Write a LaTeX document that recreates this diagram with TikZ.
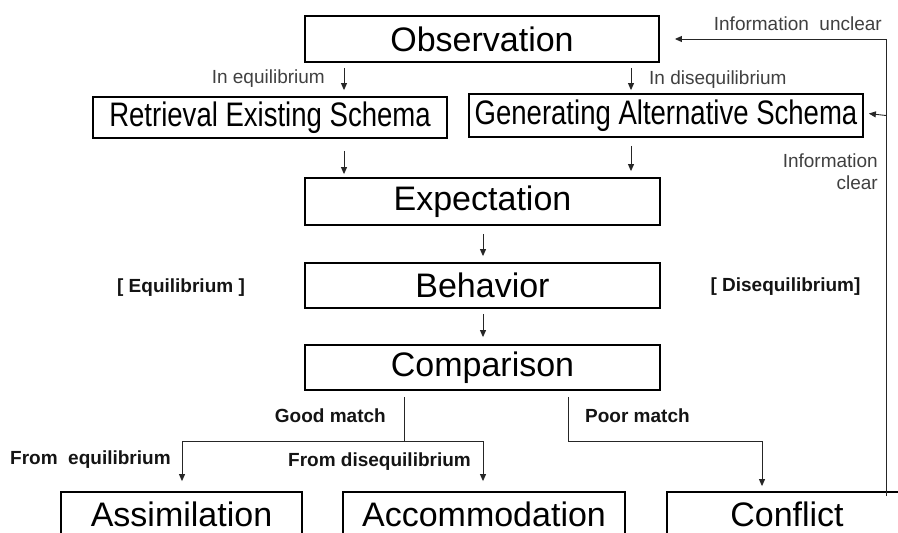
\documentclass[tikz,border=0pt]{standalone}
\usepackage{fontspec}
\setmainfont{Liberation Sans}
\usetikzlibrary{arrows.meta,calc}
\begin{document}
\begin{tikzpicture}[x=1pt,y=-1pt,
  box/.style={draw=black,line width=1.8pt,rectangle,inner sep=0pt,font=\fontsize{34}{37}\selectfont},
  arr/.style={draw=black!85,line width=0.9pt,-{Triangle[width=6pt,length=7pt]}},
  ln/.style={draw=black!85,line width=0.9pt},
  lab/.style={inner sep=0pt,text=black!75,font=\fontsize{19}{22}\selectfont},
  blab/.style={inner sep=0pt,text=black!92,font=\bfseries\fontsize{19}{22}\selectfont}]
\useasboundingbox (0,0) rectangle (898,533);
\clip (0,0) rectangle (898,533);
% boxes
\node[box,minimum width=354pt,minimum height=46pt] (obs) at (482,39) {Observation};
\node[box,minimum width=354pt,minimum height=41pt] (ret) at (270,117.5) {\scalebox{0.81}[1]{Retrieval Existing Schema}};
\node[box,minimum width=394pt,minimum height=43pt] (gen) at (666,115.5) {\scalebox{0.81}[1]{Generating Alternative Schema}};
\node[box,minimum width=355pt,minimum height=47pt] (exp) at (482.5,201.5) {Expectation};
\node[box,minimum width=355pt,minimum height=45pt] (beh) at (482.5,285.5) {Behavior};
\node[box,minimum width=355pt,minimum height=45pt] (cmp) at (482.5,367.5) {Comparison};
\node[box,minimum width=241pt,minimum height=44pt] (asm) at (181.5,514) {Assimilation};
\node[box,minimum width=282pt,minimum height=44pt] (acc) at (484,514) {Accommodation};
\node[box,minimum width=240pt,minimum height=44pt] (con) at (787,514) {Conflict};
% helper coordinates
\coordinate (xa) at (344,0);
\coordinate (xb) at (631,0);
\coordinate (xc) at (483,0);
\coordinate (gm) at (404,0);
\coordinate (pm) at (568,0);
\coordinate (xl) at (182,0);
\coordinate (xr) at (762,0);
\coordinate (xf) at (886,0);
\coordinate (hy) at (0,441);
% arrows
\draw[arr,shorten <=5pt,shorten >=6pt] (obs.south -| xa) -- (ret.north -| xa);
\draw[arr,shorten <=5pt,shorten >=3pt] (obs.south -| xb) -- (gen.north -| xb);
\draw[arr,shorten <=12pt,shorten >=3pt] (ret.south -| xa) -- (exp.north -| xa);
\draw[arr,shorten <=8pt,shorten >=6pt] (gen.south -| xb) -- (exp.north -| xb);
\draw[arr,shorten <=8pt,shorten >=6pt] (exp.south -| xc) -- (beh.north -| xc);
\draw[arr,shorten <=5pt,shorten >=7pt] (beh.south -| xc) -- (cmp.north -| xc);
% good match
\coordinate (gj) at (hy -| gm);
\draw[ln,shorten <=6pt] (cmp.south -| gm) -- (gj);
\draw[arr,shorten >=10pt] (gj) -| (asm.north -| xl);
\draw[arr,shorten >=10pt] (gj) -| (acc.north -| xc);
% poor match
\coordinate (pj) at (hy -| pm);
\draw[arr,shorten >=5pt] ([yshift=-6pt]cmp.south -| pm) -- (pj) -| (con.north -| xr);
% feedback
\coordinate (ft) at (obs.east -| xf);
\draw[arr,shorten >=15pt] ([yshift=-5pt]con.north -| xf) -- (ft) -- (obs.east);
\draw[arr,shorten >=5pt] (gen.east -| xf) -- ([yshift=2.5pt]gen.east);
% labels
\node[lab,anchor=east] (l1) at (325,79) {In equilibrium};
\node[lab,anchor=west] (l2) at (649,80) {In disequilibrium};
\node[lab,anchor=east] (l3) at (882,24) {Information\ \ unclear};
\node[lab,anchor=east,align=right] (l4) at (878,171.5) {Information\\[0pt]clear};
\node[blab] (l5) at (181,288) {[ Equilibrium ]};
\node[blab] (l6) at (785.5,287) {[ Disequilibrium]};
\node[blab,anchor=east] (l7) at (386,416) {Good match};
\node[blab,anchor=west] (l8) at (585,416) {Poor match};
\node[blab,anchor=west] (l9) at (10,460) {From\ \ equilibrium};
\node[blab,anchor=west] (l10) at (288,462) {From disequilibrium};
\end{tikzpicture}
\end{document}
